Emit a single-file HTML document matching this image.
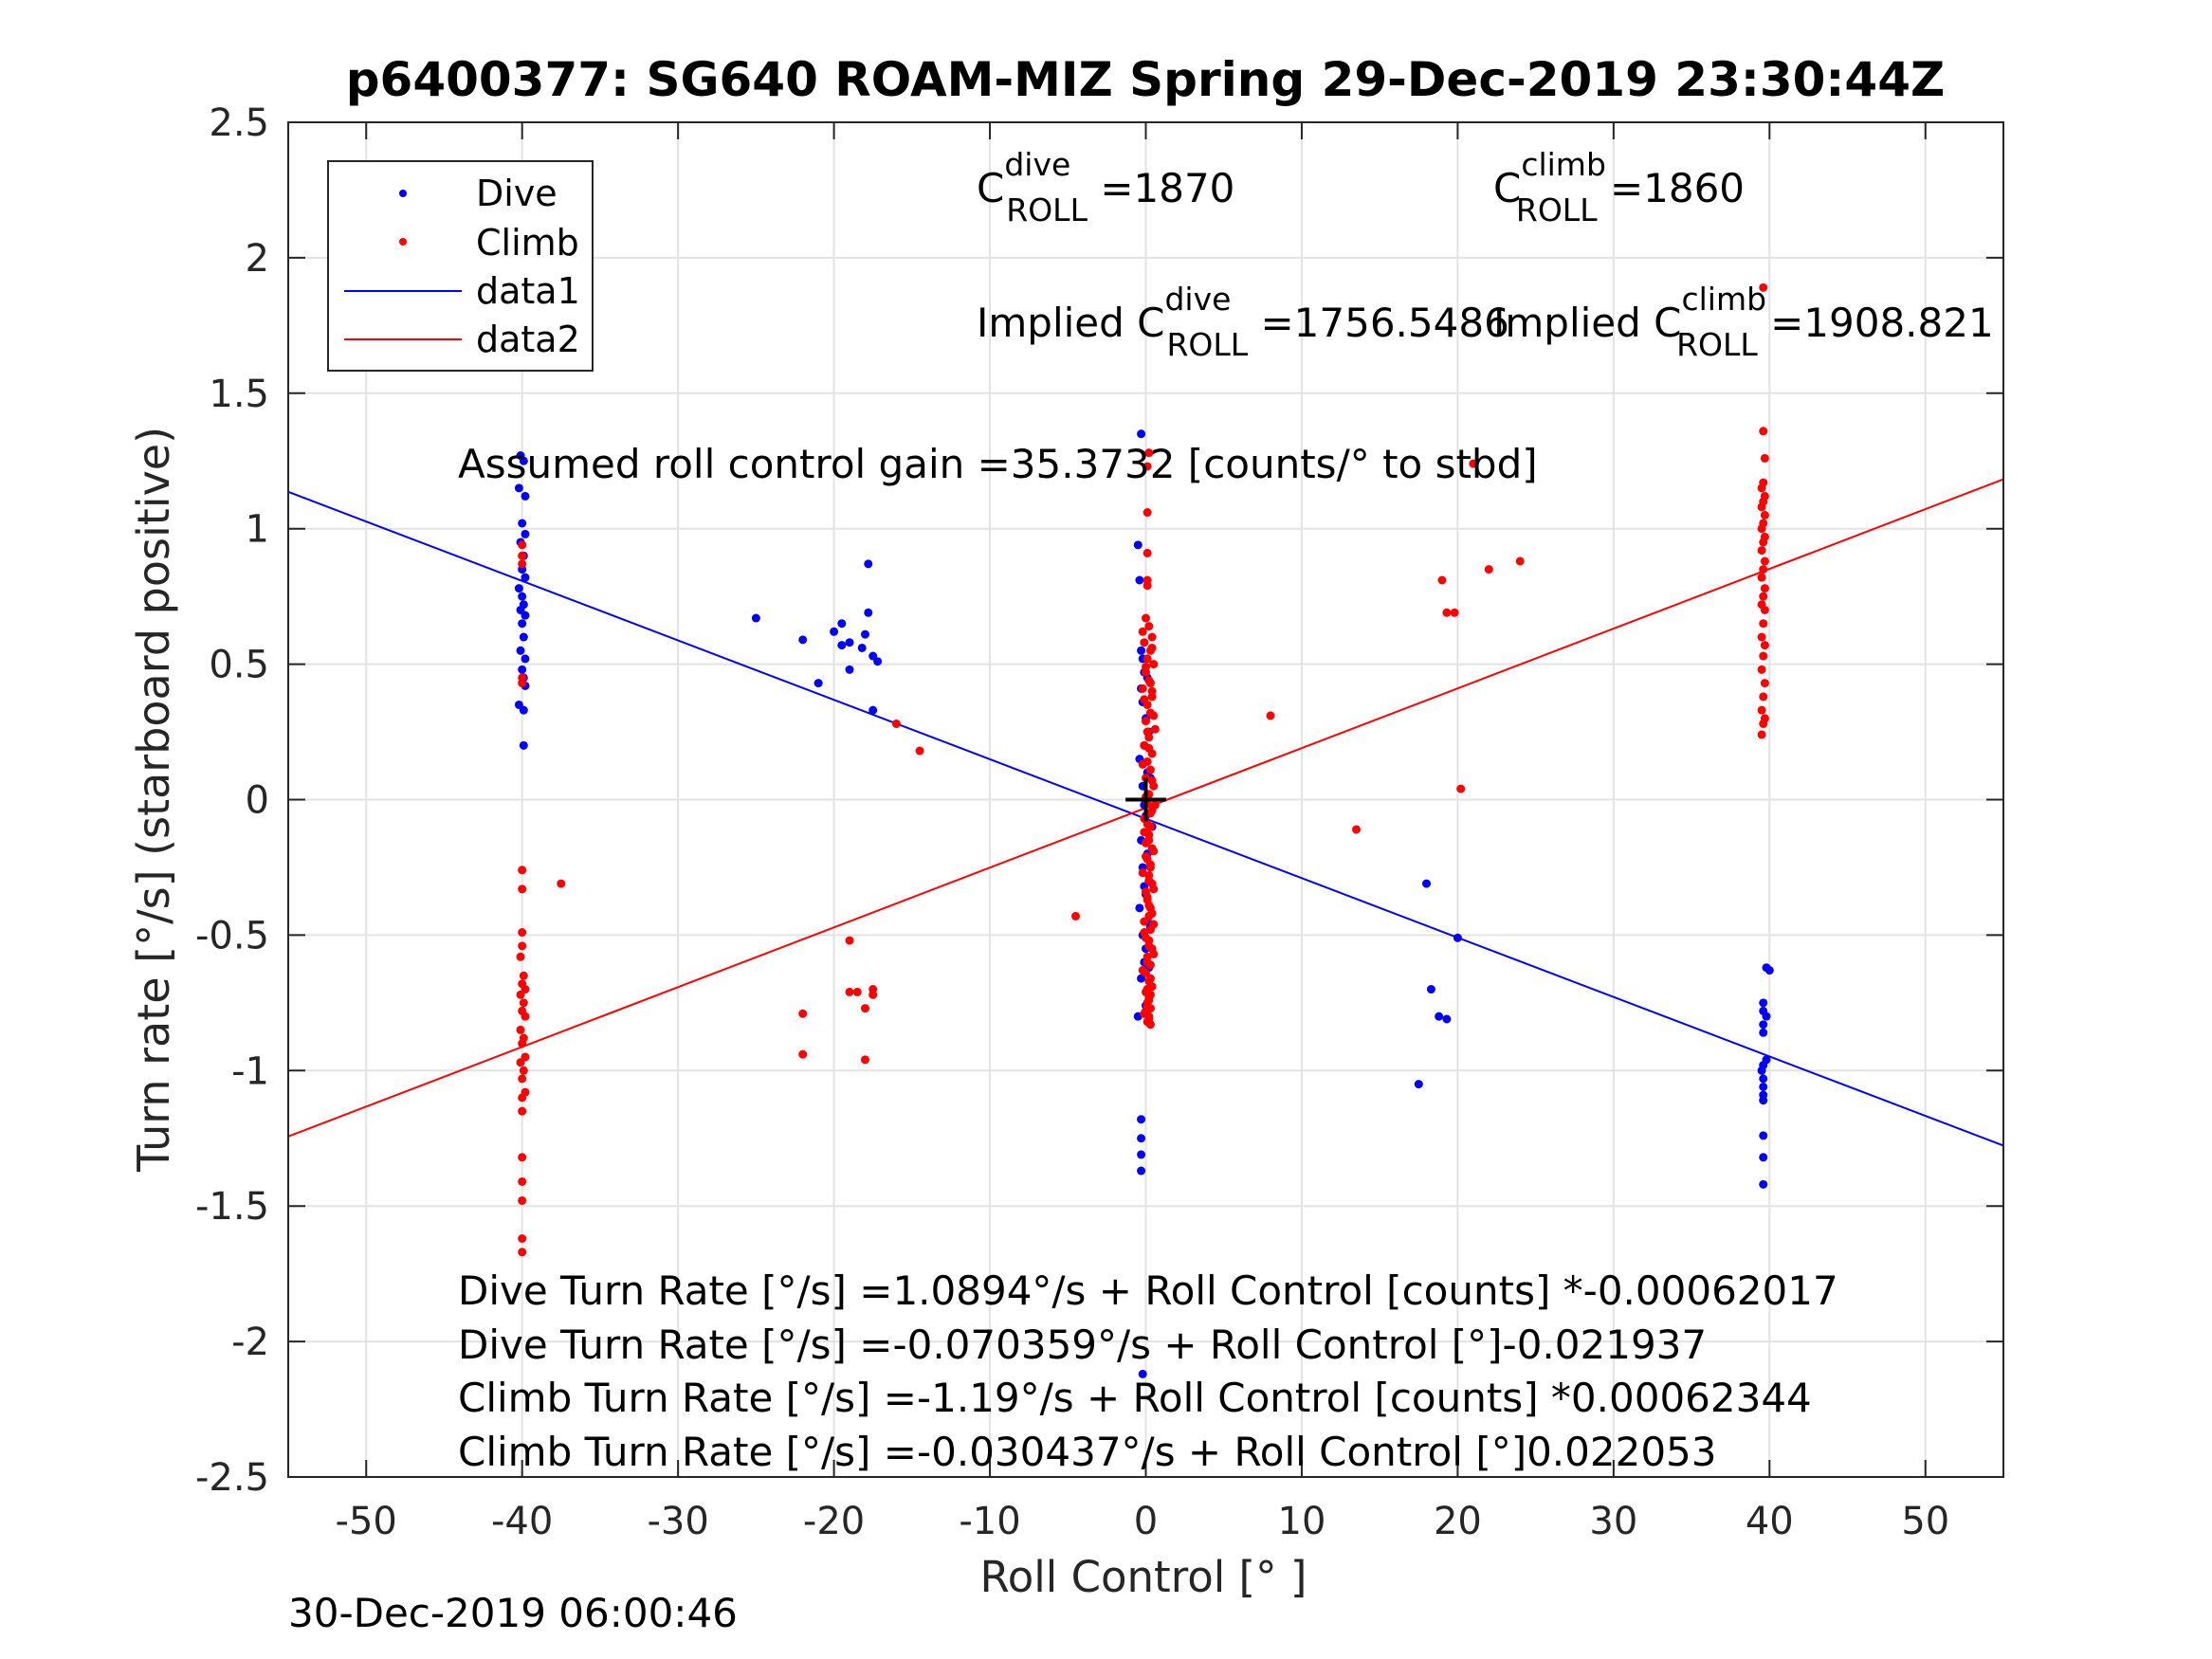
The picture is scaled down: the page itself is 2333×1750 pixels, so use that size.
<!DOCTYPE html>
<html><head><meta charset="utf-8"><style>
html,body{margin:0;padding:0;background:#fff;}
svg{display:block;font-family:"DejaVu Sans","Liberation Sans",sans-serif;}
</style></head><body>
<svg id="chart" width="2333" height="1750" viewBox="0 0 2333 1750" xmlns="http://www.w3.org/2000/svg">
<rect x="0" y="0" width="2333" height="1750" fill="#fff"/>
<g id="grid"></g>
<g id="fits"></g>
<g id="dots"></g>
<g id="axes"></g>
<text x="1208" y="101" text-anchor="middle" font-size="50" font-weight="bold" fill="#000">p6400377: SG640 ROAM-MIZ Spring 29-Dec-2019 23:30:44Z</text>
<text x="1206" y="1679" text-anchor="middle" font-size="45" fill="#262626">Roll Control [° ]</text>
<text transform="translate(178,843) rotate(-90)" text-anchor="middle" font-size="46" fill="#262626">Turn rate [°/s] (starboard positive)</text>
<text x="304" y="1716" font-size="42" fill="#000">30-Dec-2019 06:00:46</text>
<g font-size="42" fill="#000">
<text x="1030" y="213">C<tspan font-size="33" dy="-28">dive</tspan><tspan font-size="33" dx="-68" dy="48">ROLL</tspan><tspan dy="-20"> =1870</tspan></text>
<text x="1575" y="213">C<tspan font-size="33" dy="-28">climb</tspan><tspan font-size="33" dx="-95" dy="48">ROLL</tspan><tspan dy="-20"> =1860</tspan></text>
<text x="1030" y="355">Implied C<tspan font-size="33" dy="-28">dive</tspan><tspan font-size="33" dx="-68" dy="48">ROLL</tspan><tspan dy="-20"> =1756.5486</tspan></text>
<text x="1575" y="355">Implied C<tspan font-size="33" dy="-28">climb</tspan><tspan font-size="33" dx="-95" dy="48">ROLL</tspan><tspan dy="-20"> =1908.821</tspan></text>
<text x="483" y="504">Assumed roll control gain =35.3732 [counts/° to stbd]</text>
<text x="483" y="1376">Dive Turn Rate [°/s] =1.0894°/s + Roll Control [counts] *-0.00062017</text>
<text x="483" y="1433">Dive Turn Rate [°/s] =-0.070359°/s + Roll Control [°]-0.021937</text>
<text x="483" y="1489">Climb Turn Rate [°/s] =-1.19°/s + Roll Control [counts] *0.00062344</text>
<text x="483" y="1546">Climb Turn Rate [°/s] =-0.030437°/s + Roll Control [°]0.022053</text>
</g>
<g id="legend">
<rect x="346" y="170" width="279" height="221" fill="#fff" stroke="#262626" stroke-width="2"/>
<circle cx="425" cy="204" r="4" fill="#0000ff"/>
<text x="502" y="217" font-size="38">Dive</text>
<circle cx="425" cy="255" r="4" fill="#ff0000"/>
<text x="502" y="269" font-size="38">Climb</text>
<line x1="363" y1="307" x2="487" y2="307" stroke="#0000ff" stroke-width="2"/>
<text x="502" y="320" font-size="38">data1</text>
<line x1="363" y1="358" x2="487" y2="358" stroke="#ff0000" stroke-width="2"/>
<text x="502" y="371" font-size="38">data2</text>
</g>
</svg>
<script>
const xTicks = [-50,-40,-30,-20,-10,0,10,20,30,40,50];
const yTicks = [-2.5,-2,-1.5,-1,-0.5,0,0.5,1,1.5,2,2.5];
const yTickLabels = ["-2.5","-2","-1.5","-1","-0.5","0","0.5","1","1.5","2","2.5"];
const fitNames = ["data1","data2"];
const fitIntercepts = [-0.070359, -0.030437];
const fitSlopes = [-0.021937, 0.022053];
const fitColors = ["#0000ff","#ff0000"];
const diveX = [-40.1,-39.9,-40.2,-39.8,-40.0,-39.8,-40.1,-39.9,-40.0,-39.8,-40.2,-40.0,-39.9,-40.1,-39.8,-40.0,-39.9,-40.1,-39.8,-40.0,-39.9,-39.8,-40.2,-39.9,-39.9,
 -25,-22,-21,-20,-19.5,-19.5,-19,-19,-18.2,-18,-17.8,-17.8,-17.5,-17.2,-17.5,
 -0.3,-0.5,-0.4,-0.3,-0.2,-0.1,0.1,-0.3,-0.2,0.0,0.2,-0.1,-0.4,0.1,-0.2,0.3,-0.1,0.0,0.4,-0.3,0.1,-0.2,0.2,-0.1,0.0,-0.4,0.1,0.3,-0.2,0.0,-0.1,0.2,-0.3,0.1,-0.5,0.0,
 -0.3,-0.3,-0.3,-0.3,-0.2,
 39.8,40.0,39.6,39.6,39.8,39.6,39.6,39.8,39.6,39.5,39.6,39.6,39.6,39.6,39.6,39.6,39.6,
 18,18.3,18.8,19.3,20,17.5];
const diveY = [1.27,1.25,1.15,1.12,1.02,0.98,0.95,0.9,0.85,0.82,0.78,0.75,0.72,0.7,0.68,0.65,0.6,0.55,0.52,0.48,0.45,0.42,0.35,0.33,0.2,
 0.67,0.59,0.43,0.62,0.65,0.57,0.58,0.48,0.56,0.61,0.69,0.87,0.53,0.51,0.33,
 1.35,0.94,0.81,0.55,0.52,0.47,0.45,0.41,0.36,0.3,0.25,0.2,0.15,0.1,0.05,0.08,-0.02,-0.06,-0.1,-0.15,-0.2,-0.25,-0.3,-0.32,-0.35,-0.4,-0.45,-0.47,-0.5,-0.55,-0.6,-0.62,-0.66,-0.7,-0.8,-0.76,
 -1.18,-1.25,-1.31,-1.37,-2.12,
 -0.62,-0.63,-0.75,-0.78,-0.8,-0.83,-0.86,-0.96,-0.98,-1.0,-1.03,-1.06,-1.09,-1.11,-1.24,-1.32,-1.42,
 -0.31,-0.7,-0.8,-0.81,-0.51,-1.05];
const climbX = [-40,-40,-40,-40,-40,-40,-40,-37.5,-40,-40,-40.1,-39.9,-40.0,-39.8,-40.1,-39.9,-40.0,-39.8,-40.1,-39.9,-40.0,-39.8,-40.1,-39.9,-40.0,-39.8,-40.0,-40.0,-40.0,-40.0,-40.0,-40.0,-40.0,
 -22,-22,-19,-19,-18.5,-18,-17.5,-17.5,-18,-16,-14.5,-4.5,8,13.5,19,19.3,19.8,20.2,21,22,24,
 39.6,39.6,39.7,39.6,39.5,39.7,39.6,39.5,39.7,39.6,39.5,39.7,39.6,39.5,39.7,39.6,39.5,39.7,39.6,39.5,39.7,39.6,39.5,39.7,39.6,39.5,39.7,39.6,39.5,39.7,39.6,39.5,
 0.2,0.1,0.1,0.1,0.1,0.1,
 0.0,0.2,0.4,-0.1,0.3,0.1,0.5,0.0,0.2,-0.2,0.4,0.1,0.3,0.0,0.6,0.2,-0.1,0.4,0.1,0.3,0.0,0.5,0.2,0.1,0.4,-0.1,0.3,0.2,0.0,0.5,0.1,0.3,0.2,0.4,0.0,0.1,0.3,0.2,0.5,-0.1,0.2,0.4,0.1,0.3,0.0,0.2,0.1,0.3,0.2,0.1,0.0,0.2,0.3,0.1,0.2,
 -0.2,0.4,0.0,0.3,-0.1,0.5,0.1,0.2,-0.2,0.4,0.0,0.3,0.6,0.1,-0.1,0.2,0.4,0.0,0.3,-0.2,0.5,0.1,0.2,0.4,-0.1,0.3,0.0,0.2,0.5,0.1,-0.2,0.3,0.4,0.0,0.2,0.1,0.3,-0.1,0.2,0.4];
const climbY = [0.94,0.9,0.87,0.45,0.43,-0.26,-0.33,-0.31,-0.49,-0.54,-0.58,-0.65,-0.68,-0.7,-0.72,-0.75,-0.78,-0.8,-0.85,-0.88,-0.9,-0.95,-0.97,-1.0,-1.03,-1.08,-1.1,-1.15,-1.32,-1.41,-1.48,-1.62,-1.67,
 -0.79,-0.94,-0.52,-0.71,-0.71,-0.77,-0.7,-0.72,-0.96,0.28,0.18,-0.43,0.31,-0.11,0.81,0.69,0.69,0.04,1.24,0.85,0.88,
 1.89,1.36,1.26,1.17,1.15,1.12,1.1,1.08,1.05,1.02,1.0,0.97,0.95,0.92,0.88,0.85,0.82,0.78,0.75,0.72,0.7,0.65,0.6,0.57,0.53,0.48,0.43,0.38,0.33,0.3,0.28,0.24,
 1.28,1.23,1.06,0.91,0.81,0.79,
 0.67,0.64,0.6,0.58,0.55,0.52,0.5,0.47,0.44,0.41,0.38,0.35,0.32,0.29,0.26,0.23,0.2,0.17,0.14,0.11,0.08,0.05,0.02,-0.01,-0.04,-0.07,-0.1,-0.13,-0.16,-0.19,-0.22,-0.25,-0.28,-0.31,-0.34,-0.37,-0.4,-0.43,-0.46,-0.49,-0.52,-0.55,-0.58,-0.61,-0.64,-0.67,-0.7,-0.72,-0.74,-0.76,-0.78,-0.8,-0.83,-0.82,-0.3,
 0.62,0.56,0.49,0.43,0.37,0.31,0.25,0.19,0.13,0.07,0.01,-0.05,-0.02,-0.09,-0.12,-0.15,-0.18,-0.21,-0.24,-0.27,-0.33,-0.36,-0.39,-0.42,-0.45,-0.48,-0.51,-0.54,-0.57,-0.6,-0.63,-0.66,-0.69,-0.71,-0.73,-0.75,-0.77,-0.79,-0.81,0.4];
const X0=304,X1=2113,Y0=129,Y1=1558,XMIN=-55,XMAX=55,YMIN=-2.5,YMAX=2.5;
function sx(v){return X0+(v-XMIN)/(XMAX-XMIN)*(X1-X0);}
function sy(v){return Y1-(v-YMIN)/(YMAX-YMIN)*(Y1-Y0);}
const NS="http://www.w3.org/2000/svg";
function mk(tag,attrs,parent){const e=document.createElementNS(NS,tag);for(const k in attrs)e.setAttribute(k,attrs[k]);parent.appendChild(e);return e;}
const grid=document.getElementById('grid'),axes=document.getElementById('axes'),fits=document.getElementById('fits'),dots=document.getElementById('dots');
xTicks.forEach(t=>{
  const g=mk('line',{x1:sx(t),x2:sx(t),y1:Y0,y2:Y1,stroke:'#e3e3e3','stroke-width':2},grid);
  
  
  const a=mk('line',{x1:sx(t),x2:sx(t),y1:Y1,y2:Y1-18,stroke:'#262626','stroke-width':2},axes);
  
  
  const b=mk('line',{x1:sx(t),x2:sx(t),y1:Y0,y2:Y0+18,stroke:'#262626','stroke-width':2},axes);
  
  
  const l=mk('text',{x:sx(t),y:1618,'text-anchor':'middle','font-size':40,fill:'#262626'},axes);
  l.textContent=String(t);
  
  
});
yTicks.forEach((t,i)=>{
  const g=mk('line',{x1:X0,x2:X1,y1:sy(t),y2:sy(t),stroke:'#e3e3e3','stroke-width':2},grid);
  
  
  const a=mk('line',{x1:X0,x2:X0+18,y1:sy(t),y2:sy(t),stroke:'#262626','stroke-width':2},axes);
  
  
  const b=mk('line',{x1:X1,x2:X1-18,y1:sy(t),y2:sy(t),stroke:'#262626','stroke-width':2},axes);
  
  
  const l=mk('text',{x:284,y:sy(t)+14,'text-anchor':'end','font-size':40,fill:'#262626'},axes);
  l.textContent=yTickLabels[i];
  
  
});
const frame=mk('rect',{x:X0,y:Y0,width:X1-X0,height:Y1-Y0,fill:'none',stroke:'#262626','stroke-width':2},axes);


fitNames.forEach((n,i)=>{
  const l=mk('line',{x1:sx(XMIN),y1:sy(fitIntercepts[i]+fitSlopes[i]*XMIN),x2:sx(XMAX),y2:sy(fitIntercepts[i]+fitSlopes[i]*XMAX),stroke:fitColors[i],'stroke-width':2},fits);
  
  
});
diveX.forEach((v,i)=>{
  const c=mk('circle',{cx:sx(v),cy:sy(diveY[i]),r:4.5,fill:'#0000ff'},dots);
  
  
});
climbX.forEach((v,i)=>{
  const c=mk('circle',{cx:sx(v),cy:sy(climbY[i]),r:4.5,fill:'#ff0000'},dots);
  
  
});
const ch=mk('line',{x1:sx(-1.3),x2:sx(1.3),y1:sy(0),y2:sy(0),stroke:'#000','stroke-width':4},dots);


const cv=mk('line',{x1:sx(0),x2:sx(0),y1:sy(0.08),y2:sy(-0.08),stroke:'#000','stroke-width':4},dots);


</script>
</body></html>
